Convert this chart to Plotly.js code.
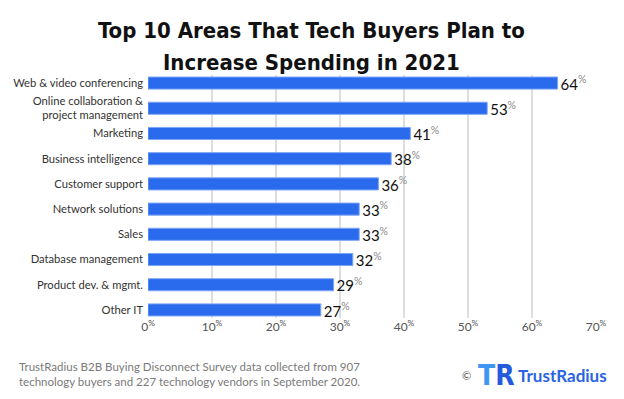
<!DOCTYPE html>
<html>
<head>
<meta charset="utf-8">
<script src="https://cdn.plot.ly/plotly-3.0.1.min.js"></script>
<style>html,body{margin:0;padding:0;background:#fff;}#chart{width:624px;height:399px;}</style>
</head>
<body>
<div id="chart"></div>
<script>
var categories = [
  "Web & video conferencing",
  "Online collaboration &<br>project management",
  "Marketing",
  "Business intelligence",
  "Customer support",
  "Network solutions",
  "Sales",
  "Database management",
  "Product dev. & mgmt.",
  "Other IT"
];
var values = [64, 53, 41, 38, 36, 33, 33, 32, 29, 27];
var tickValues = [0, 10, 20, 30, 40, 50, 60, 70];
var tickLabels = tickValues.map(function(v){ return v + "<sup>%</sup>"; });
var titleLines = ["Top 10 Areas That Tech Buyers Plan to", "Increase Spending in 2021"];

var pct = "<sup><span style='color:#8a8a8a'>%</span></sup>";
var labels = values.map(function(v){ return v + pct; });

var trace = {
  type: "bar",
  orientation: "h",
  y: categories,
  x: values,
  width: 0.48,
  marker: { color: "#2a6aec", line: { color: "#7ea6f5", width: 1 } },
  text: labels,
  textposition: "outside",
  constraintext: "none",
  cliponaxis: false,
  textfont: { family: "Lato, sans-serif", size: 15, color: "#111" },
  hoverinfo: "none"
};

var titleFont = { family: "DejaVu Sans Condensed, DejaVu Sans, sans-serif", size: 22, color: "#111", weight: "bold" };

var layout = {
  width: 624, height: 399,
  margin: { l: 148, r: 28, t: 75, b: 81 },
  paper_bgcolor: "#fff", plot_bgcolor: "#fff",
  showlegend: false,
  xaxis: {
    range: [0, 70],
    tickvals: tickValues, ticktext: tickLabels,
    showgrid: true, gridcolor: "#dedede", gridwidth: 1.5,
    zeroline: false, showline: false, ticks: "",
    tickfont: { family: "Lato, sans-serif", size: 12, color: "#555" },
    fixedrange: true
  },
  yaxis: {
    type: "category",
    range: [9.32, -0.32],
    showgrid: false, zeroline: false, showline: false, ticks: "",
    tickfont: { family: "Lato, sans-serif", size: 11.2, color: "#333" },
    ticklabelstandoff: 4,
    fixedrange: true
  },
  annotations: [
    {
      xref: "paper", yref: "paper", x: 0.366, y: 1.185,
      xanchor: "center", yanchor: "middle", showarrow: false,
      text: titleLines[0], font: titleFont
    },
    {
      xref: "paper", yref: "paper", x: 0.366, y: 1.05,
      xanchor: "center", yanchor: "middle", showarrow: false,
      text: titleLines[1], font: titleFont
    },
    {
      xref: "paper", yref: "paper", x: -0.2924, y: -0.2305,
      xanchor: "left", yanchor: "middle", align: "left", showarrow: false,
      text: "TrustRadius B2B Buying Disconnect Survey data collected from 907<br>technology buyers and 227 technology vendors in September 2020.",
      font: { family: "Lato, sans-serif", size: 11.5, color: "#7a7a7a" }
    },
    {
      xref: "paper", yref: "paper", x: 0.712, y: -0.2346,
      xanchor: "center", yanchor: "middle", showarrow: false,
      text: "©", font: { family: "Lato, sans-serif", size: 11, color: "#555" }
    },
    {
      xref: "paper", yref: "paper", x: 0.733, y: -0.238,
      xanchor: "left", yanchor: "middle", showarrow: false,
      text: "<span style='color:#3f95f2'>T</span><span style='color:#2559de'>R</span>",
      font: { family: "DejaVu Sans Condensed, DejaVu Sans, sans-serif", size: 28, color: "#2a6aec", weight: "bold" }
    },
    {
      xref: "paper", yref: "paper", x: 0.821, y: -0.2346,
      xanchor: "left", yanchor: "middle", showarrow: false,
      text: "TrustRadius", font: { family: "Lato, sans-serif", size: 17, color: "#2a64e5", weight: "bold" }
    }
  ]
};

Plotly.newPlot("chart", [trace], layout, { displayModeBar: false, staticPlot: true });
</script>
</body>
</html>
